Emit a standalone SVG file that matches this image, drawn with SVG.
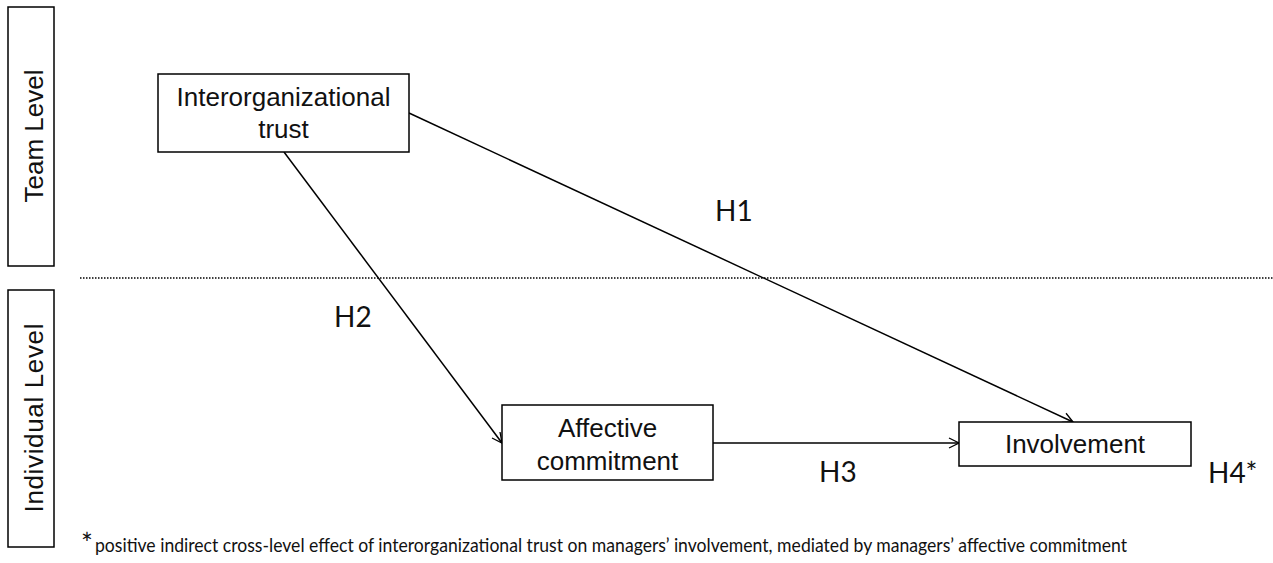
<svg xmlns="http://www.w3.org/2000/svg" width="1273" height="563" viewBox="0 0 1273 563">
<style>
.box{fill:#fff;stroke:#000;stroke-width:1.5}
.lbl{font-family:"Liberation Sans",Arial,sans-serif;font-size:26px;fill:#111;text-anchor:middle}
.h{font-family:Lato,"Open Sans",sans-serif;font-size:28px;fill:#111}
.conn{stroke:#000;stroke-width:1.5;fill:none;marker-end:url(#arr)}
.note{font-family:Lato,"Open Sans",sans-serif;font-size:19px;fill:#111}
.star{font-family:Lato,"Open Sans",sans-serif;font-size:28px;fill:#111}
</style>
<defs>
<marker id="arr" viewBox="0 0 12 12" refX="11" refY="6" markerWidth="12" markerHeight="12" markerUnits="userSpaceOnUse" orient="auto">
<polyline points="1,1 11,6 1,11" fill="none" stroke="#000" stroke-width="1.3"/>
</marker>
</defs>
<rect width="1273" height="563" fill="#fff"/>
<g id="team-level">
<rect class="box" x="8" y="7" width="46" height="259"/>
<text class="lbl" transform="translate(43,136) rotate(-90)" x="0" y="0">Team Level</text>
</g>
<g id="individual-level">
<rect class="box" x="8" y="290" width="46" height="257"/>
<text class="lbl" transform="translate(43,418) rotate(-90)" x="0" y="0" textLength="189" lengthAdjust="spacing">Individual Level</text>
</g>
<g id="level-divider">
<line x1="80" y1="278" x2="1273" y2="278" stroke="#000" stroke-width="1.5" stroke-dasharray="1.5 1.5"/>
</g>
<g id="connectors">
<line class="conn" x1="284" y1="152" x2="502" y2="443"/>
<line class="conn" x1="409" y1="113" x2="1073" y2="422"/>
<line class="conn" x1="713" y1="443" x2="959" y2="443"/>
<text class="h" x="715" y="221">H1</text>
<text class="h" x="334" y="327">H2</text>
<text class="h" x="819" y="482">H3</text>
<text class="h" x="1208" y="483">H4*</text>
</g>
<g id="interorganizational-trust">
<rect class="box" x="158" y="74" width="251" height="78"/>
<text class="lbl" x="283.5" y="106">Interorganizational</text>
<text class="lbl" x="283.5" y="138">trust</text>
</g>
<g id="affective-commitment">
<rect class="box" x="502" y="405" width="211" height="75"/>
<text class="lbl" x="607.5" y="437">Affective</text>
<text class="lbl" x="607.5" y="470">commitment</text>
</g>
<g id="involvement">
<rect class="box" x="959" y="422" width="232" height="44"/>
<text class="lbl" x="1075" y="453">Involvement</text>
</g>
<g id="footnote">
<text class="star" x="81" y="554">*</text>
<text class="note" x="95" y="552" textLength="1032" lengthAdjust="spacingAndGlyphs">positive indirect cross-level effect of interorganizational trust on managers’ involvement, mediated by managers’ affective commitment</text>
</g>
</svg>
